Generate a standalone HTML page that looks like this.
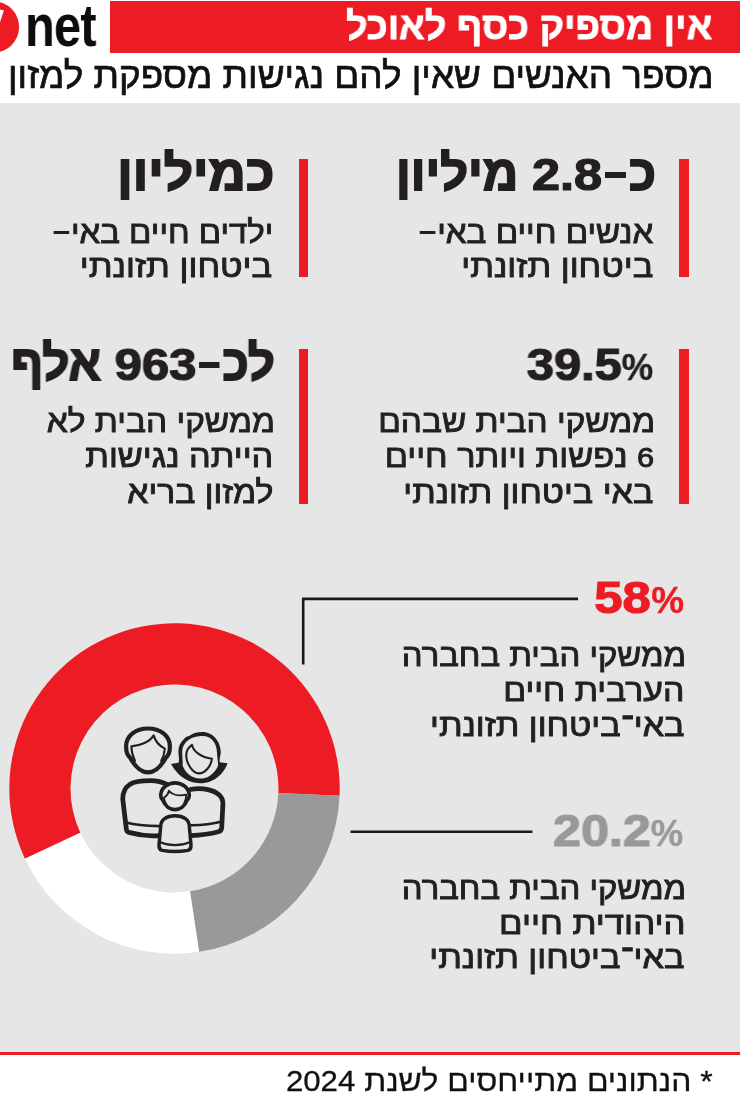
<!DOCTYPE html>
<html lang="he">
<head>
<meta charset="utf-8">
<title>אין מספיק כסף לאוכל</title>
<style>
html,body{margin:0;padding:0}
body{width:740px;height:1110px;position:relative;overflow:hidden;background:#fff;font-family:"Liberation Sans", sans-serif;}
.t{will-change:transform;position:absolute;white-space:nowrap;direction:rtl;unicode-bidi:isolate;line-height:1.2;transform-origin:100% 50%;margin:0;padding:0}
.t span{line-height:0}

.abs{position:absolute}
.bar{position:absolute;background:#ed1c24}
</style>
</head>
<body>
<!-- header -->
<div class="abs" style="left:109.5px;top:1px;width:630.5px;height:51.5px;background:#ed1c24"></div>
<svg class="abs" style="left:0;top:0" width="110" height="56" viewBox="0 0 110 56">
  <circle cx="-6.6" cy="27" r="25.7" fill="#ed1c24"/>
  <polygon points="0,9.6 3.9,10.6 0,22.2" fill="#fff"/>
</svg>
<div class="abs" id="net" style="will-change:transform;left:24.5px;top:-10.0px;font-size:59.4px;font-weight:700;color:#0d0d0d;line-height:1.2;letter-spacing:-1px;transform-origin:0 50%;transform:scaleX(.822);white-space:nowrap">net</div>
<!-- grey panel -->
<div class="abs" style="left:0;top:102.6px;width:740px;height:950px;background:#e6e6e6"></div>
<div class="abs" style="left:0;top:1052.3px;width:740px;height:2.9px;background:#ed1c24"></div>
<!-- red stat bars -->
<div class="bar" style="left:679px;top:158.8px;width:9.6px;height:118.6px"></div>
<div class="bar" style="left:298.8px;top:158.8px;width:9.3px;height:118.6px"></div>
<div class="bar" style="left:679px;top:348.8px;width:9.6px;height:155.5px"></div>
<div class="bar" style="left:298.8px;top:348.8px;width:9.3px;height:155.5px"></div>
<!-- donut + icon + leader lines -->
<svg class="abs" style="left:0;top:560px" width="740" height="440" viewBox="0 560 740 440">
<path fill="#ed1c24" d="M24.96,858.71 A165.2,165.2 0 1 1 339.54,795.71 L278.40,793.04 A104,104 0 1 0 80.36,832.70 Z"/><path fill="#999999" d="M339.54,795.71 A165.2,165.2 0 0 1 199.06,951.86 L189.96,891.34 A104,104 0 0 0 278.40,793.04 Z"/><path fill="#ffffff" d="M199.06,951.86 A165.2,165.2 0 0 1 24.96,858.71 L80.36,832.70 A104,104 0 0 0 189.96,891.34 Z"/>
<path d="M303.2,664.5 V598.9 H578" fill="none" stroke="#1a1a1a" stroke-width="2.6"/>
<path d="M350.5,831.8 H532.5" fill="none" stroke="#1a1a1a" stroke-width="2.6"/>
<g fill="none" stroke="#231f20" stroke-linecap="round" stroke-linejoin="round">
  <!-- man body -->
  <g transform="translate(116,774) scale(0.086486)">
    <path stroke-width="55" d="M600,125 C540,95 470,78 400,78 C300,78 210,90 160,120 C100,160 78,220 78,290 L120,640 C122,665 135,672 160,678 C260,705 380,722 500,712"/>
    <path stroke-width="30" d="M118,560 C230,590 370,600 500,603"/>
  </g>
  <!-- woman body -->
  <g transform="translate(170,774) scale(0.086486)">
    <path stroke-width="55" d="M240,178 C300,168 380,168 440,180 C540,200 612,260 612,340 L598,620 C596,650 585,662 560,668 C460,695 350,708 240,712"/>
    <path stroke-width="30" d="M600,548 C500,575 380,590 245,592"/>
  </g>
  <!-- man head -->
  <g transform="translate(118,722) scale(0.081081)">
    <path stroke-width="52" d="M370,622 C300,622 215,560 150,440 C120,420 100,370 100,300 C100,170 220,80 370,80 C520,80 640,170 640,300 C640,370 620,420 590,440 C525,560 440,622 370,622 Z"/>
    <path stroke-width="26" d="M210,480 C180,420 165,360 165,300 C260,295 390,250 440,165 C460,240 520,300 578,328 C575,380 560,430 532,480"/>
  </g>
  <!-- woman head -->
  <g transform="translate(168,726) scale(0.086486)">
    <path fill="#231f20" fill-rule="evenodd" stroke="none" d="M400,68 C330,68 280,85 250,112 C225,118 205,128 190,145 C140,190 118,240 120,300 C122,350 135,400 120,425 L35,440 C80,520 150,600 250,640 C300,658 340,662 370,662 C450,662 540,630 610,560 C650,515 675,470 688,430 L598,420 C590,380 612,340 610,290 C606,180 520,68 400,68 Z
      M400,115 C300,115 170,160 165,300 C163,360 175,410 168,450 C185,510 235,565 290,590 C320,602 350,607 375,607 C445,607 520,570 575,470 C585,440 570,380 566,300 C560,190 500,115 400,115 Z"/>
    <path stroke-width="24" d="M278,218 C230,250 205,300 212,360 C222,450 290,545 355,548 C430,550 500,460 508,378 C380,365 290,290 278,218 Z"/>
  </g>
  <!-- child head -->
  <g transform="translate(143,778) scale(0.086486)">
    <path fill="#e6e6e6" stroke-width="42" d="M370,365 C310,365 255,320 225,250 C205,235 205,200 205,190 C215,110 290,56 370,56 C450,56 525,110 535,190 C535,210 535,235 515,250 C485,320 430,365 370,365 Z"/>
    <path stroke-width="22" d="M268,300 C252,280 245,255 243,228 C275,205 295,180 300,148 C330,185 400,215 500,192 C500,230 492,265 476,292"/>
  </g>
  <!-- child body -->
  <g transform="translate(143,800) scale(0.086486)">
    <path fill="#e6e6e6" stroke-width="40" d="M205,300 C205,230 270,182 370,182 C470,182 535,230 535,300 L555,520 C557,560 545,575 520,582 C420,600 320,600 220,582 C195,575 183,560 185,520 Z"/>
    <path stroke-width="24" d="M200,488 C260,515 320,522 370,522 C420,522 480,515 540,488"/>
  </g>
</g>

</svg>
<!-- texts -->
<div class="t" style="right:28.0px;top:3.2px;font-size:38.61px;font-weight:700;color:#fff;-webkit-text-stroke:0.8px #fff;transform:scaleX(0.9759)">אין מספיק כסף לאוכל</div>
<div class="t" style="right:26.0px;top:54.45px;font-size:36.89px;font-weight:400;color:#111;-webkit-text-stroke:0.7px #111;transform:scaleX(1.0)">מספר האנשים שאין להם נגישות מספקת למזון</div>
<div class="t" style="right:84.0px;top:144.1px;font-size:48.84px;font-weight:700;color:#231f20;-webkit-text-stroke:1.8px #231f20;transform:scaleX(1.0)">כ<span style="display:inline-block;width:20.5px;height:6.4px;background:currentColor;vertical-align:11.8px;margin:0 3.2px 0 3.2px"></span><span style="display:inline-block;direction:ltr;font-size:44.7px;-webkit-text-stroke-width:1.2px;transform:scaleX(1.13);margin:0 0.0904em">2.8</span> מיליון</div>
<div class="t" style="right:86.5px;top:213.55px;font-size:31.22px;font-weight:400;color:#231f20;-webkit-text-stroke:0.9px #231f20;transform:scaleX(1.0614)">אנשים חיים באי<span style="display:inline-block;width:14.5px;height:3px;background:currentColor;vertical-align:8.6px;margin:0 2.2px 0 0px"></span></div>
<div class="t" style="right:86.5px;top:248.15px;font-size:31.22px;font-weight:400;color:#231f20;-webkit-text-stroke:0.9px #231f20;transform:scaleX(1.1017)">ביטחון תזונתי</div>
<div class="t" style="right:465.4px;top:144.1px;font-size:48.84px;font-weight:700;color:#231f20;-webkit-text-stroke:1.8px #231f20;transform:scaleX(1.0521)">כמיליון</div>
<div class="t" style="right:466.39px;top:213.55px;font-size:31.22px;font-weight:400;color:#231f20;-webkit-text-stroke:0.9px #231f20;transform:scaleX(1.0558)">ילדים חיים באי<span style="display:inline-block;width:14.5px;height:3px;background:currentColor;vertical-align:8.6px;margin:0 2.2px 0 0px"></span></div>
<div class="t" style="right:467.5px;top:248.15px;font-size:31.22px;font-weight:400;color:#231f20;-webkit-text-stroke:0.9px #231f20;transform:scaleX(1.1047)">ביטחון תזונתי</div>
<div class="t" style="right:87.03px;top:334.1px;font-size:48.84px;font-weight:700;color:#231f20;direction:ltr;-webkit-text-stroke:1.8px #231f20;transform:scaleX(0.9651)"><span style="display:inline-block;direction:ltr;font-size:44.7px;-webkit-text-stroke-width:1.2px;transform:scaleX(1.13);margin:0 0.1265em">39.5</span><span style="display:inline-block;direction:ltr;font-size:37.84px;-webkit-text-stroke-width:0.4px;transform:scaleX(0.97);margin:0 -0.0133em">%</span></div>
<div class="t" style="right:84.36px;top:403.15px;font-size:31.22px;font-weight:400;color:#231f20;-webkit-text-stroke:0.9px #231f20;transform:scaleX(1.0686)">ממשקי הבית שבהם</div>
<div class="t" style="right:85.4px;top:438.35px;font-size:31.22px;font-weight:400;color:#231f20;-webkit-text-stroke:0.9px #231f20;transform:scaleX(1.0992)"><span style="font-size:27.94px">6</span> נפשות ויותר חיים</div>
<div class="t" style="right:86.5px;top:474.15px;font-size:31.22px;font-weight:400;color:#231f20;-webkit-text-stroke:0.9px #231f20;transform:scaleX(1.0903)">באי ביטחון תזונתי</div>
<div class="t" style="right:465.55px;top:334.1px;font-size:48.84px;font-weight:700;color:#231f20;-webkit-text-stroke:1.8px #231f20;transform:scaleX(0.9738)">לכ<span style="display:inline-block;width:20.5px;height:6.4px;background:currentColor;vertical-align:11.8px;margin:0 3.2px 0 3.2px"></span><span style="display:inline-block;direction:ltr;font-size:44.7px;-webkit-text-stroke-width:1.2px;transform:scaleX(1.13);margin:0 0.1084em">963</span> אלף</div>
<div class="t" style="right:465.36px;top:403.15px;font-size:31.22px;font-weight:400;color:#231f20;-webkit-text-stroke:0.9px #231f20;transform:scaleX(1.0714)">ממשקי הבית לא</div>
<div class="t" style="right:466.3px;top:438.35px;font-size:31.22px;font-weight:400;color:#231f20;-webkit-text-stroke:0.9px #231f20;transform:scaleX(1.0976)">הייתה נגישות</div>
<div class="t" style="right:466.42px;top:474.15px;font-size:31.22px;font-weight:400;color:#231f20;-webkit-text-stroke:0.9px #231f20;transform:scaleX(1.0789)">למזון בריא</div>
<div class="t" style="right:56.49px;top:566.9px;font-size:48.84px;font-weight:700;color:#ed1c24;direction:ltr;-webkit-text-stroke:1.8px #ed1c24;transform:scaleX(1.0057)"><span style="display:inline-block;direction:ltr;font-size:44.7px;-webkit-text-stroke-width:1.2px;transform:scaleX(1.13);margin:0 0.0723em">58</span><span style="display:inline-block;direction:ltr;font-size:37.84px;-webkit-text-stroke-width:0.4px;transform:scaleX(0.97);margin:0 -0.0133em">%</span></div>
<div class="t" style="right:54.14px;top:636.55px;font-size:31.22px;font-weight:400;color:#231f20;-webkit-text-stroke:0.9px #231f20;transform:scaleX(1.0526)">ממשקי הבית בחברה</div>
<div class="t" style="right:55.17px;top:671.55px;font-size:31.22px;font-weight:400;color:#231f20;-webkit-text-stroke:0.9px #231f20;transform:scaleX(1.0823)">הערבית חיים</div>
<div class="t" style="right:55.16px;top:706.55px;font-size:31.22px;font-weight:400;color:#231f20;-webkit-text-stroke:0.9px #231f20;transform:scaleX(1.0946)">באי־ביטחון תזונתי</div>
<div class="t" style="right:57.01px;top:799.9px;font-size:48.84px;font-weight:700;color:#999999;direction:ltr;-webkit-text-stroke:1.8px #999999;transform:scaleX(0.9942)"><span style="display:inline-block;direction:ltr;font-size:44.7px;-webkit-text-stroke-width:1.2px;transform:scaleX(1.13);margin:0 0.1265em">20.2</span><span style="display:inline-block;direction:ltr;font-size:37.84px;-webkit-text-stroke-width:0.4px;transform:scaleX(0.97);margin:0 -0.0133em">%</span></div>
<div class="t" style="right:54.14px;top:869.75px;font-size:31.22px;font-weight:400;color:#231f20;-webkit-text-stroke:0.9px #231f20;transform:scaleX(1.0526)">ממשקי הבית בחברה</div>
<div class="t" style="right:54.02px;top:904.55px;font-size:31.22px;font-weight:400;color:#231f20;-webkit-text-stroke:0.9px #231f20;transform:scaleX(1.1128)">היהודית חיים</div>
<div class="t" style="right:55.15px;top:939.35px;font-size:31.22px;font-weight:400;color:#231f20;-webkit-text-stroke:0.9px #231f20;transform:scaleX(1.0978)">באי־ביטחון תזונתי</div>
<div class="t" style="right:27.92px;top:1062.85px;font-size:29.6px;font-weight:400;color:#111;-webkit-text-stroke:0.3px #111;transform:scaleX(1.0759)">* הנתונים מתייחסים לשנת <span style="font-size:29.0px">2024</span></div>
</body>
</html>
